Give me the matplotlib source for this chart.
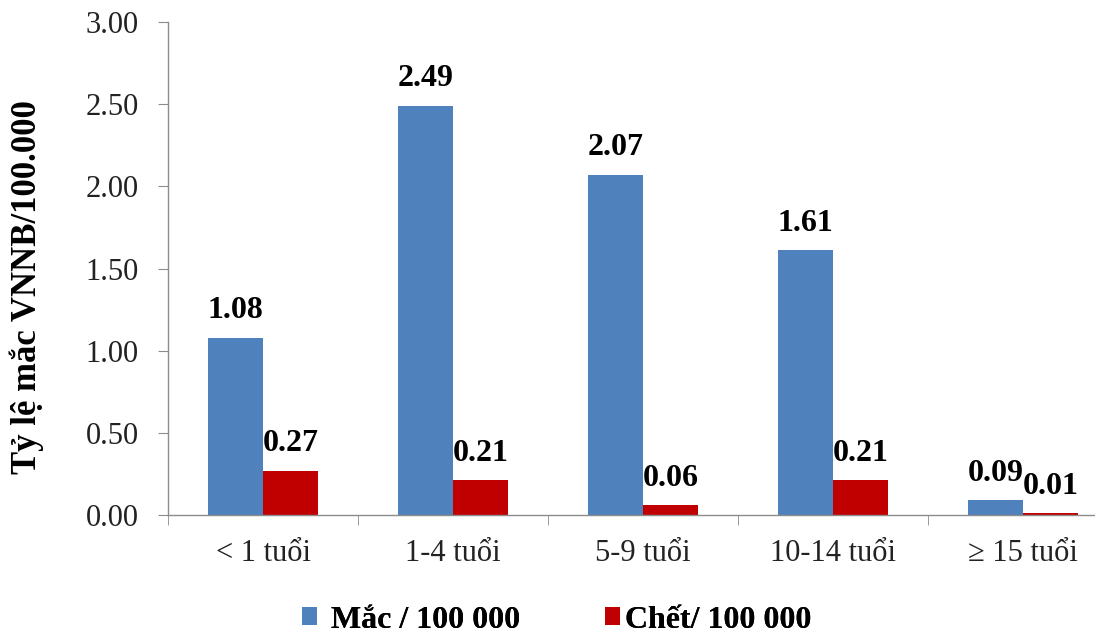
import matplotlib
matplotlib.use("Agg")
import matplotlib.pyplot as plt
import numpy as np

plt.rcParams['font.family'] = ['Liberation Serif', 'DejaVu Serif']

categories = ["< 1 tuổi", "1-4 tuổi", "5-9 tuổi", "10-14 tuổi", "\u2265 15 tuổi"]
mac = [1.08, 2.49, 2.07, 1.61, 0.09]
chet = [0.27, 0.21, 0.06, 0.21, 0.01]
series_names = ["Mắc / 100 000", "Chết/ 100 000"]
yticks = [0.0, 0.5, 1.0, 1.5, 2.0, 2.5, 3.0]

blue = "#4F81BD"
red = "#C00000"
axis_gray = "#8C8C8C"

fig = plt.figure(figsize=(10.95, 6.35), dpi=100)
ax = fig.add_axes([168 / 1095, 120 / 635, 950 / 1095, 493 / 635])

x = np.arange(len(categories))
w = 0.29
b1 = ax.bar(x - w / 2, mac, width=w, color=blue, label=series_names[0], zorder=2)
b2 = ax.bar(x + w / 2, chet, width=w, color=red, label=series_names[1], zorder=2)

for rects, vals in ((b1, mac), (b2, chet)):
    for r, v in zip(rects, vals):
        ax.annotate(f"{v:.2f}", (r.get_x() + r.get_width() / 2, v),
                    xytext=(0, 9), textcoords="offset points",
                    ha="center", va="bottom", fontsize=23, fontweight="bold")

ax.set_xlim(-0.5, len(categories) - 0.5)
ax.set_ylim(0, 3.0)
ax.set_yticks(yticks)
ax.set_yticklabels([f"{t:.2f}" for t in yticks], fontsize=22, color="#222222")

ax.set_xticks(x)
ax.set_xticklabels(categories, fontsize=22, color="#222222")
ax.tick_params(axis="x", which="major", length=0, pad=17)
ax.set_xticks(np.arange(-0.5, len(categories), 1.0), minor=True)
ax.tick_params(axis="x", which="minor", length=7, color=axis_gray, direction="out")
ax.tick_params(axis="y", length=7, color=axis_gray, direction="out", pad=14)

for s in ("top", "right"):
    ax.spines[s].set_visible(False)
for s in ("left", "bottom"):
    ax.spines[s].set_color(axis_gray)
    ax.spines[s].set_linewidth(1.0)

ax.set_ylabel("Tỷ lệ mắc VNNB/100.000", fontsize=25, fontweight="bold")
ax.yaxis.set_label_coords(-0.131, 0.462)

# one legend entry per series, placed side by side below the axis
legend_spots = [(302 / 1095, 0.44), (605 / 1095, 0.16)]
for handle, name, (lx, pad) in zip((b1, b2), series_names, legend_spots):
    leg = fig.legend(handles=[handle], labels=[name], loc="center left",
                     bbox_to_anchor=(lx, 15 / 635), frameon=False,
                     prop={"size": 23, "weight": "bold"}, handlelength=0.47,
                     handleheight=0.47, handletextpad=pad, borderpad=0,
                     borderaxespad=0)
    fig.add_artist(leg)

fig.savefig("out.png", dpi=100)
